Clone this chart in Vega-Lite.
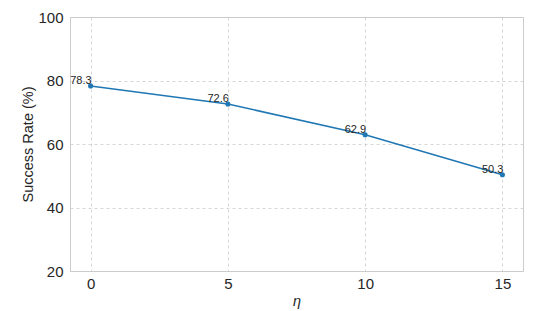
{
  "$schema": "https://vega.github.io/schema/vega-lite/v6.json",
  "autosize": "none",
  "width": 453,
  "height": 254,
  "padding": {"left": 70, "top": 17, "right": 24, "bottom": 40},
  "background": "white",
  "config": {
    "view": {"stroke": "#cccccc", "strokeWidth": 1},
    "font": "Liberation Sans",
    "axis": {
      "domain": false,
      "ticks": false,
      "grid": true,
      "gridColor": "#cccccc",
      "gridDash": [3, 3],
      "gridWidth": 0.8,
      "labelFont": "Liberation Sans",
      "labelFontSize": 15,
      "labelColor": "#262626",
      "titleFont": "Liberation Sans",
      "titleFontSize": 14.5,
      "titleFontWeight": "normal",
      "titleColor": "#262626"
    }
  },
  "data": {"values": [
    {"eta": 0, "rate": 78.3, "label": "78.3"},
    {"eta": 5, "rate": 72.6, "label": "72.6"},
    {"eta": 10, "rate": 62.9, "label": "62.9"},
    {"eta": 15, "rate": 50.3, "label": "50.3"}
  ]},
  "encoding": {
    "x": {"field": "eta", "type": "quantitative",
      "scale": {"domain": [-0.75, 15.75], "nice": false, "zero": false},
      "axis": {"values": [0, 5, 10, 15], "title": "η", "titleFontStyle": "italic", "labelPadding": 5, "titlePadding": 3}},
    "y": {"field": "rate", "type": "quantitative",
      "scale": {"domain": [20, 100], "nice": false, "zero": false},
      "axis": {"values": [20, 40, 60, 80, 100], "title": "Success Rate (%)", "labelPadding": 7, "titlePadding": 2}}
  },
  "layer": [
    {"mark": {"type": "line", "color": "#1f77b4", "strokeWidth": 1.5}},
    {"mark": {"type": "point", "filled": true, "color": "#1f77b4", "size": 26, "opacity": 1}},
    {"mark": {"type": "text", "align": "right", "baseline": "bottom", "dx": 1, "dy": 0, "fontSize": 11, "color": "#262626"},
      "encoding": {"text": {"field": "label"}}}
  ]
}
